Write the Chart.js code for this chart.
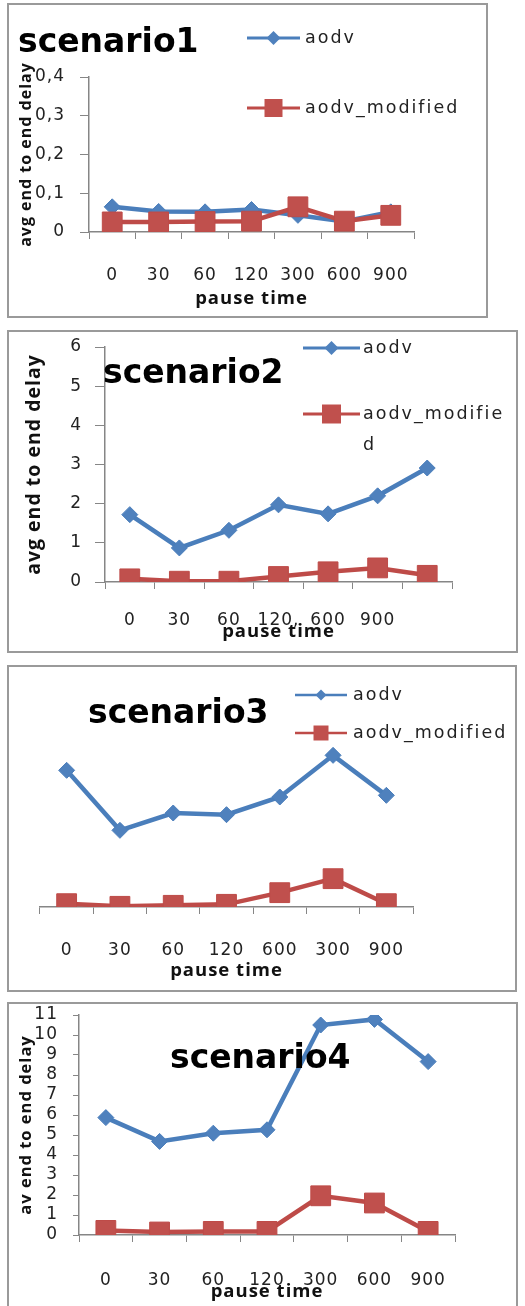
<!DOCTYPE html>
<html>
<head>
<meta charset="utf-8">
<script src="https://cdn.jsdelivr.net/npm/chart.js@4.4.1/dist/chart.umd.min.js"></script>
<style>
  html, body { margin: 0; padding: 0; background: #fff; }
  body { position: relative; width: 525px; height: 1306px; overflow: hidden; }
  .box { position: absolute; border: 2px solid #9a9a9a; box-sizing: border-box; background: #fff; }
  canvas { position: absolute; left: 0; }
</style>
</head>
<body>
<div class="box" style="left:7px;top:3px;width:481px;height:315px"></div>
<div class="box" style="left:7px;top:330px;width:511px;height:323px"></div>
<div class="box" style="left:7px;top:665px;width:510px;height:327px"></div>
<div class="box" style="left:7px;top:1002px;width:511px;height:330px"></div>
<canvas id="c1" width="525" height="320" style="top:0"></canvas>
<canvas id="c2" width="525" height="340" style="top:320px"></canvas>
<canvas id="c3" width="525" height="340" style="top:660px"></canvas>
<canvas id="c4" width="525" height="326" style="top:980px"></canvas>
<script>
// data
const pause1 = ["0", "30", "60", "120", "300", "600", "900"];
const aodv1 = [0.065, 0.053, 0.052, 0.058, 0.043, 0.027, 0.052];
const mod1 = [0.026, 0.026, 0.027, 0.028, 0.065, 0.028, 0.043];

const pause2 = ["0", "30", "60", "120,", "600", "900", ""];
const aodv2 = [1.72, 0.87, 1.32, 1.97, 1.74, 2.2, 2.91];
const mod2 = [0.08, 0.02, 0.02, 0.14, 0.26, 0.36, 0.17];

// scenario3 has no value axis in the picture, units are relative
const pause3 = ["0", "30", "60", "120", "600", "300", "900"];
const aodv3 = [4.1, 2.3, 2.82, 2.77, 3.3, 4.55, 3.35];
const mod3 = [0.1, 0.02, 0.05, 0.08, 0.43, 0.85, 0.1];

const pause4 = ["0", "30", "60", "120", "300", "600", "900"];
const aodv4 = [5.87, 4.68, 5.09, 5.26, 10.5, 10.78, 8.67];
const mod4 = [0.23, 0.15, 0.18, 0.18, 1.96, 1.6, 0.18];

const blue = "#4A7EBB",
  blueFill = "#4F81BD",
  red = "#BE4B48",
  redFill = "#C0504D",
  axisGray = "#868686",
  ink = "#222";

const sans = '"DejaVu Sans", sans-serif',
  open = '"Open Sans", sans-serif';

Chart.defaults.font.family = sans;
Chart.defaults.color = ink;

// >> title + legend drawn by hand, Excel style
const deco = {
  id: "deco",
  beforeDraw(chart) {
    chart.ctx.letterSpacing = "1px";
  },
  afterDraw(chart, args, o) {
    if (!o || !o.title) return;
    const ctx = chart.ctx;
    ctx.save();
    ctx.letterSpacing = "0px";
    ctx.fillStyle = "#000";
    ctx.textAlign = "left";
    ctx.textBaseline = "alphabetic";
    ctx.font = 'bold 33px "DejaVu Sans"';
    ctx.fillText(o.title, o.tx, o.ty);

    const L = o.legend;
    if (L) {
      ctx.font = '17.5px "DejaVu Sans"';
      ctx.letterSpacing = "2px";
      ctx.textBaseline = "middle";
      chart.data.datasets.forEach((ds, i) => {
        const y = L.rows[i];
        ctx.strokeStyle = ds.borderColor;
        ctx.lineWidth = L.lw;
        ctx.beginPath();
        ctx.moveTo(L.x1, y);
        ctx.lineTo(L.x2, y);
        ctx.stroke();
        const cx = (L.x1 + L.x2) / 2;
        ctx.fillStyle = ds.pointBackgroundColor;
        ctx.beginPath();
        if (ds.pointStyle === "rectRot") {
          const r = L.dia;
          ctx.moveTo(cx - r, y);
          ctx.lineTo(cx, y - r);
          ctx.lineTo(cx + r, y);
          ctx.lineTo(cx, y + r);
          ctx.closePath();
        } else {
          ctx.rect(cx - L.sq / 2, y - L.sq / 2, L.sq, L.sq);
        }
        ctx.fill();
        ctx.fillStyle = ink;
        let text = ds.label;
        let k = 0;
        while (text.length) {
          const part = L.wrap ? text.slice(0, L.wrap) : text;
          ctx.fillText(part, L.tx, y + k * 31);
          text = text.slice(part.length);
          k++;
        }
      });
    }
    ctx.restore();
  },
};
Chart.register(deco);

function series(aodv, mod) {
  return [
    {
      label: "aodv",
      data: aodv,
      borderColor: blue,
      backgroundColor: blueFill,
      borderWidth: 4.5,
      tension: 0,
      pointStyle: "rectRot",
      pointRadius: 8,
      pointBackgroundColor: blueFill,
      pointBorderColor: blue,
      pointBorderWidth: 1,
      order: 1,
    },
    {
      label: "aodv_modified",
      data: mod,
      borderColor: red,
      backgroundColor: redFill,
      borderWidth: 4.5,
      tension: 0,
      pointStyle: "rect",
      pointRadius: 14,
      pointBackgroundColor: redFill,
      pointBorderColor: red,
      pointBorderWidth: 1,
      order: 0,
    },
  ];
}

function xAxis(o) {
  return {
    type: "category",
    offset: true,
    grid: { display: true, drawOnChartArea: false, offset: true, tickLength: 7, color: axisGray },
    border: { display: true, color: axisGray, width: 1.5 },
    ticks: { padding: o.tickPad, font: { size: 17 }, maxRotation: 0, autoSkip: false },
    title: {
      display: true,
      text: "pause time",
      font: { family: open, size: 18.5, weight: "bold" },
      color: "#111",
      padding: { top: 0, bottom: 0 },
    },
    afterFit: (s) => { s.height = o.h; },
  };
}

function yAxis(o) {
  return {
    display: o.show !== false,
    min: 0,
    max: o.max,
    ticks: {
      stepSize: o.step,
      padding: o.tickPad,
      font: { size: 17 },
      autoSkip: false,
      callback: o.fmt || ((v) => v),
    },
    grid: { drawOnChartArea: false, tickLength: o.tl, color: axisGray },
    border: { color: axisGray, width: 1.5 },
    title: {
      display: !!o.title,
      text: o.title,
      font: { family: open, size: o.tsize, weight: "bold" },
      color: "#111",
      padding: { top: o.tpad, bottom: 0 },
    },
    afterFit: (s) => { s.width = o.w; },
  };
}

function makeChart(id, labels, aodv, mod, pad, x, y, d) {
  return new Chart(document.getElementById(id), {
    type: "line",
    data: { labels, datasets: series(aodv, mod) },
    options: {
      responsive: false,
      animation: false,
      layout: { padding: pad },
      plugins: { legend: { display: false }, tooltip: { enabled: false }, deco: d },
      scales: { x: xAxis(x), y: yAxis(y) },
    },
  });
}

const comma = (v) => (v === 0 ? "0" : v.toFixed(1).replace(".", ","));

makeChart("c1", pause1, aodv1, mod1,
  { left: 10, right: 111, top: 77, bottom: 10 },
  { tickPad: 26, h: 78 },
  { max: 0.4, step: 0.1, tickPad: 15, tl: 9, w: 79, title: "avg end to end delay", tsize: 16, tpad: 7, fmt: comma },
  { title: "scenario1", tx: 18, ty: 52,
    legend: { x1: 247, x2: 300, tx: 305, rows: [38, 108], lw: 3, dia: 7, sq: 18 } });

makeChart("c2", pause2, aodv2, mod2,
  { left: 10, right: 73, top: 27, bottom: 17 },
  { tickPad: 21, h: 61 },
  { max: 6, step: 1, tickPad: 13, tl: 10, w: 95, title: "avg end to end delay", tsize: 19.5, tpad: 13 },
  { title: "scenario2", tx: 103, ty: 63,
    legend: { x1: 303, x2: 360, tx: 363, rows: [28, 94], wrap: 12, lw: 3, dia: 7, sq: 19 } });

makeChart("c3", pause3, aodv3, mod3,
  { left: 40, right: 112, top: 47, bottom: 18 },
  { tickPad: 26, h: 75 },
  { show: false, max: 6, step: 1, tickPad: 0, tl: 0, w: 0 },
  { title: "scenario3", tx: 88, ty: 63,
    legend: { x1: 295, x2: 347, tx: 353, rows: [35, 73], lw: 2.5, dia: 5.5, sq: 15 } });

makeChart("c4", pause4, aodv4, mod4,
  { left: 8, right: 70, top: 35, bottom: 3 },
  { tickPad: 28, h: 68 },
  { max: 11, step: 1, tickPad: 15, tl: 6, w: 71, title: "av end to end delay", tsize: 16.5, tpad: 8 },
  { title: "scenario4", tx: 170, ty: 88 });
</script>
</body>
</html>
